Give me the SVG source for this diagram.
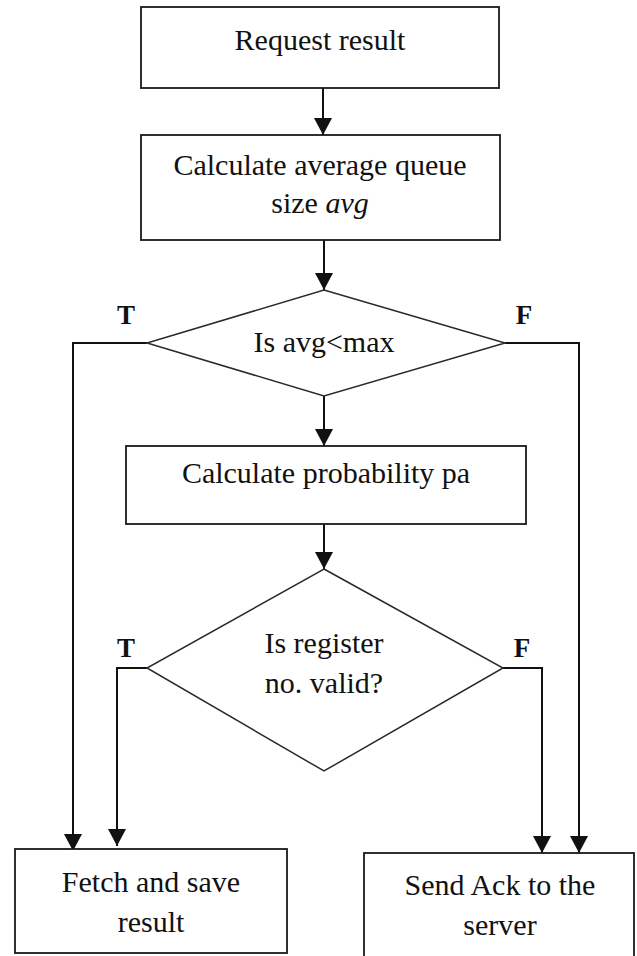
<svg xmlns="http://www.w3.org/2000/svg" width="637" height="956" viewBox="0 0 637 956">
<style>
.box{fill:#fff;stroke:#1a1a1a;stroke-width:1.8}
.dia{fill:#fff;stroke:#2a2a2a;stroke-width:1.5}
.t{font-family:"Liberation Serif","Times New Roman",serif;font-size:30px;fill:#111;text-anchor:middle}
.lbl{font-family:"Liberation Serif","Times New Roman",serif;font-size:27px;font-weight:bold;fill:#111;text-anchor:middle}
.c{fill:none;stroke:#111;stroke-width:2}
</style>
<defs>
<marker id="ah" markerUnits="userSpaceOnUse" markerWidth="18" markerHeight="18" refX="17" refY="9" orient="auto">
<path d="M0,0 L17,9 L0,18 Z" fill="#111"/>
</marker>
</defs>
<g id="connectors">
<line class="c" x1="323" y1="88" x2="323" y2="135" marker-end="url(#ah)"/>
<line class="c" x1="324" y1="240" x2="324" y2="290" marker-end="url(#ah)"/>
<line class="c" x1="324" y1="396" x2="324" y2="446" marker-end="url(#ah)"/>
<line class="c" x1="324" y1="524" x2="324" y2="569" marker-end="url(#ah)"/>
<polyline class="c" points="147,343 73,343 73,851" marker-end="url(#ah)"/>
<polyline class="c" points="505,343 579,343 579,853" marker-end="url(#ah)"/>
<polyline class="c" points="147,668 117,668 117,846" marker-end="url(#ah)"/>
<polyline class="c" points="503,668 542,668 542,853" marker-end="url(#ah)"/>
<text class="lbl" x="126" y="324">T</text>
<text class="lbl" x="524" y="324">F</text>
<text class="lbl" x="126" y="657">T</text>
<text class="lbl" x="522" y="657">F</text>
</g>
<g id="request">
<rect class="box" x="141" y="7" width="358" height="81"/>
<text class="t" x="320" y="50">Request result</text>
</g>
<g id="calc-avg">
<rect class="box" x="141" y="135" width="359" height="105"/>
<text class="t" x="320" y="175">Calculate average queue</text>
<text class="t" x="320" y="213">size <tspan font-style="italic">avg</tspan></text>
</g>
<g id="dec-avg">
<polygon class="dia" points="324,290 505,343 324,396 147,343"/>
<text class="t" x="324" y="352">Is avg&lt;max</text>
</g>
<g id="calc-prob">
<rect class="box" x="126" y="446" width="400" height="78"/>
<text class="t" x="326" y="483">Calculate probability pa</text>
</g>
<g id="dec-reg">
<polygon class="dia" points="324,569 503,668 324,771 147,668"/>
<text class="t" x="324" y="653">Is register</text>
<text class="t" x="324" y="693">no. valid?</text>
</g>
<g id="fetch">
<rect class="box" x="15" y="849" width="272" height="104"/>
<text class="t" x="151" y="892">Fetch and save</text>
<text class="t" x="151" y="932">result</text>
</g>
<g id="send">
<rect class="box" x="364" y="853" width="270" height="106"/>
<text class="t" x="500" y="895">Send Ack to the</text>
<text class="t" x="500" y="935">server</text>
</g>
</svg>
